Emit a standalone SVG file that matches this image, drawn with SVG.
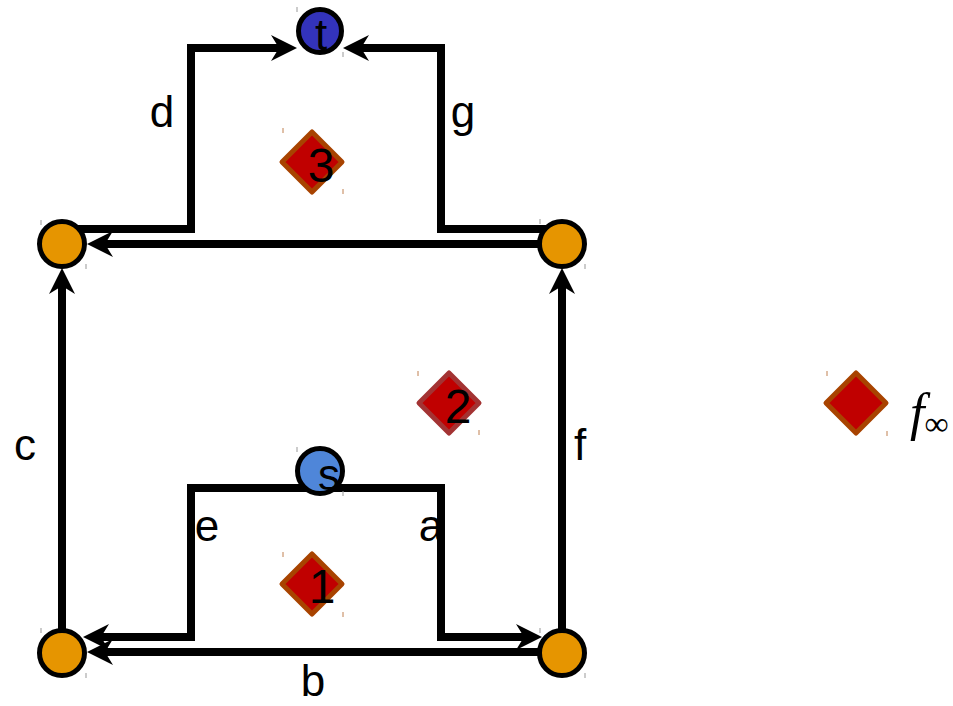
<svg xmlns="http://www.w3.org/2000/svg" width="953" height="706" viewBox="0 0 953 706">
<style>
.e{fill:none;stroke:#000;stroke-width:8;stroke-linejoin:miter}
.n{stroke:#000;stroke-width:5}
.o{fill:#e69500}
.d{fill:#c00000;stroke:#a84300;stroke-width:5;stroke-linejoin:round}
.t{font-family:"Liberation Sans",Arial,sans-serif;font-size:44px;fill:#000;text-anchor:middle}
.g{font-size:48px}
.m{stroke:#999;stroke-width:1}
.mb{stroke:#c08050;stroke-width:1}
</style>
<defs>
<marker id="ah" markerUnits="userSpaceOnUse" viewBox="0 -14 28 28" markerWidth="28" markerHeight="28" refX="8" refY="0" orient="auto">
<path d="M26,0 L0,-13 L8,0 L0,13 Z" fill="#000"/>
</marker>
</defs>
<g id="edges">
<path id="d" class="e" d="M62,229 H191 V48 H279" marker-end="url(#ah)"/>
<path id="g" class="e" d="M562,229 H441 V48 H361" marker-end="url(#ah)"/>
<path id="top" class="e" d="M562,244 H105" marker-end="url(#ah)"/>
<path id="c" class="e" d="M62,653 V286" marker-end="url(#ah)"/>
<path id="f" class="e" d="M562,653 V286" marker-end="url(#ah)"/>
<path id="e" class="e" d="M320,488 H191 V637 H101" marker-end="url(#ah)"/>
<path id="a" class="e" d="M320,488 H441 V637 H524" marker-end="url(#ah)"/>
<path id="b" class="e" d="M562,652 H105" marker-end="url(#ah)"/>
<text class="t" x="162" y="127">d</text>
<text class="t" x="463" y="127">g</text>
<text class="t" x="25" y="460">c</text>
<text class="t" x="580" y="460">f</text>
<text class="t" x="207" y="541">e</text>
<text class="t" x="431" y="541">a</text>
<text class="t" x="313" y="696">b</text>
</g>
<g id="node-t">
<circle class="n" cx="320" cy="31" r="21.5" fill="#3333bb"/>
<text class="t" x="321" y="50">t</text>
<line class="m" x1="297" y1="7" x2="297" y2="12"/><line class="m" x1="343" y1="52" x2="343" y2="57"/>
</g>
<g id="node-tl">
<circle class="n o" cx="62" cy="244" r="22.5"/>
<line class="m" x1="41" y1="220" x2="41" y2="225"/><line class="m" x1="86" y1="264" x2="86" y2="269"/>
</g>
<g id="node-tr">
<circle class="n o" cx="562" cy="244" r="22.5"/>
<line class="m" x1="540" y1="219" x2="540" y2="224"/><line class="m" x1="585" y1="264" x2="585" y2="269"/>
</g>
<g id="node-bl">
<circle class="n o" cx="62" cy="653" r="22.5"/>
<line class="m" x1="41" y1="628" x2="41" y2="633"/><line class="m" x1="86" y1="673" x2="86" y2="678"/>
</g>
<g id="node-br">
<circle class="n o" cx="562" cy="653" r="22.5"/>
<line class="m" x1="540" y1="628" x2="540" y2="633"/><line class="m" x1="585" y1="673" x2="585" y2="678"/>
</g>
<g id="node-s">
<circle class="n" cx="320" cy="471" r="22.5" fill="#4f86d9"/>
<text class="t" x="329" y="490">s</text>
<line class="m" x1="297" y1="447" x2="297" y2="452"/><line class="m" x1="343" y1="491" x2="343" y2="496"/>
</g>
<g id="face-3">
<path class="d" d="M312,132 L342,162 L312,192 L282,162 Z"/>
<text class="t g" x="321" y="182">3</text>
<line class="mb" x1="283" y1="128" x2="283" y2="133"/><line class="mb" x1="343" y1="189" x2="343" y2="194"/>
</g>
<g id="face-2">
<path class="d" style="stroke:#a33333" d="M449,373 L479,403 L449,433 L419,403 Z"/>
<text class="t g" x="458" y="423">2</text>
<line class="mb" x1="418" y1="371" x2="418" y2="376"/><line class="mb" x1="479" y1="430" x2="479" y2="435"/>
</g>
<g id="face-1">
<path class="d" d="M312,554 L342,584 L312,614 L282,584 Z"/>
<text class="t g" x="322" y="603">1</text>
<line class="mb" x1="283" y1="552" x2="283" y2="557"/><line class="mb" x1="343" y1="612" x2="343" y2="617"/>
</g>
<g id="legend">
<path class="d" d="M856,373 L886,403 L856,433 L826,403 Z"/>
<line class="mb" x1="827" y1="371" x2="827" y2="376"/><line class="mb" x1="887" y1="431" x2="887" y2="436"/>
<text x="910" y="430" style="font-family:'Liberation Serif','Times New Roman',serif;font-size:52px"><tspan font-style="italic">f</tspan><tspan font-size="34" dy="5">∞</tspan></text>
</g>
</svg>
